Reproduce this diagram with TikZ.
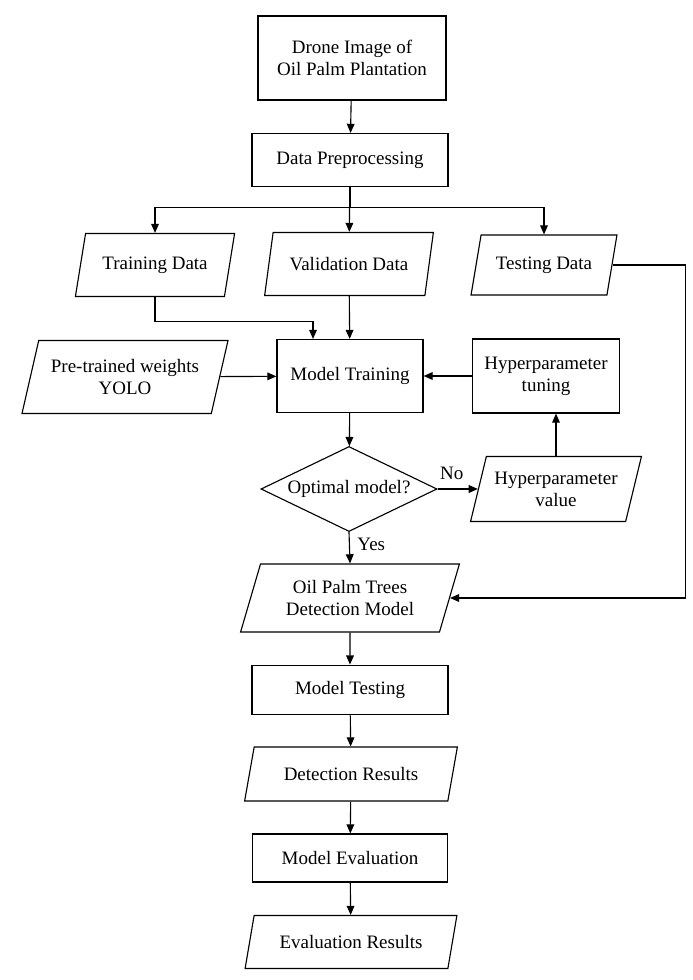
\documentclass[tikz,border=0pt]{standalone}
\usepackage{fontspec}
\setmainfont{Liberation Serif}
\usepackage{tikz}
\usetikzlibrary{calc,shapes.geometric,arrows.meta}

\begin{document}
\begin{tikzpicture}[x=0.025cm, y=-0.025cm, line width=0.8pt, >={Triangle[length=6.5pt,width=5.5pt]},
    font=\rmfamily\fontsize{13.5}{15.6}\selectfont,
    proc/.style={draw, rectangle, align=center, inner sep=2pt},
    iodata/.style={draw, trapezium, trapezium left angle=70, trapezium right angle=110,
      trapezium stretches=true, align=center, inner sep=2pt},
    decide/.style={draw, diamond, aspect=2, align=center, inner sep=0pt}]
    \useasboundingbox (0,0) rectangle (692,980);
    % boxes
    \node[proc, minimum width=4.7cm, minimum height=2.1cm] (drone) at (352,58) {Drone Image of\\Oil Palm Plantation};
    \node[proc, minimum width=4.9cm, minimum height=1.325cm] (prep) at (350,160) {Data Preprocessing};
    \node[iodata, minimum width=4.0cm, minimum height=1.575cm] (train) at (155,265) {Training Data};
    \node[iodata, minimum width=4.25cm, minimum height=1.575cm] (valid) at (349,264) {Validation Data};
    \node[iodata, minimum width=3.65cm, minimum height=1.5cm] (test) at (544,265) {Testing Data};
    \node[iodata, minimum width=5.15cm, minimum height=1.825cm] (pre) at (125,377) {Pre-trained weights\\YOLO};
    \node[proc, minimum width=3.65cm, minimum height=1.825cm] (mtrain) at (350,376) {Model Training};
    \node[proc, minimum width=3.675cm, minimum height=1.85cm] (htune) at (546,376) {Hyperparameter\\tuning};
    \node[decide, minimum width=4.4cm, minimum height=2.125cm] (dia) at (349,489) {Optimal model?};
    \node[iodata, minimum width=4.275cm, minimum height=1.625cm] (hval) at (556,489) {Hyperparameter\\value};
    \node[iodata, minimum width=5.475cm, minimum height=1.7cm] (opm) at (350,598) {Oil Palm Trees\\Detection Model};
    \node[proc, line width=1.3pt, minimum width=4.9cm, minimum height=1.225cm] (mtest) at (350,690) {Model Testing};
    \node[iodata, minimum width=5.325cm, minimum height=1.35cm] (detres) at (351,774) {Detection Results};
    \node[proc, minimum width=4.875cm, minimum height=1.2cm] (meval) at (350,858) {Model Evaluation};
    \node[iodata, minimum width=5.3cm, minimum height=1.325cm] (evres) at (351,942) {Evaluation Results};
    % arrows
    \draw[->] (drone) -- (prep);
    \draw[->] (prep) -- (valid);
    \draw[->] (prep.south) -- ++(0,20) -| (train.north);
    \draw[->] (prep.south) -- ++(0,20) -| (test.north);
    \draw[->] (train.south) -- ++(0,24) -| ($(mtrain.north)+(-37,0)$);
    \draw[->] (valid) -- (mtrain);
    \draw[->] (pre) -- (mtrain);
    \draw[->] (htune) -- (mtrain);
    \draw[->] (mtrain) -- (dia);
    \draw[->] (dia.east) -- (hval.left side) node[pos=0.35, above=3pt] {No};
    \draw[->] (hval.north) -- (hval.north |- htune.south);
    \draw[->] (dia.south) -- (opm.north) node[pos=0.4, right=2pt] {Yes};
    \draw[->] (test.right side) -- ++(73,0) |- (opm.right side);
    \draw[->] (opm) -- (mtest);
    \draw[->] (mtest) -- (detres);
    \draw[->] (detres) -- (meval);
    \draw[->] (meval) -- (evres);
\end{tikzpicture}
\end{document}
